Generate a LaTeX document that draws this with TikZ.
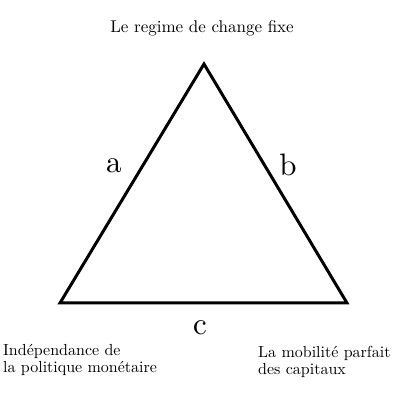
\documentclass[tikz,border=0pt]{standalone}
\usepackage{fontspec}
\setmainfont{lmroman10-regular}[Extension=.otf]
\tikzset{
  corner/.style={font=\fontsize{16}{17.5}\selectfont, inner sep=0pt, align=left},
  side/.style={font=\fontsize{31}{31}\selectfont, inner sep=0pt, anchor=base},
}
\begin{document}
\begin{tikzpicture}[x=1pt,y=1pt]
  \useasboundingbox (0,0) rectangle (400,400);
  \draw
    (204,336) coordinate (top)
    (60,97) coordinate (left)
    (347,97) coordinate (right);
  \draw[line width=3pt] (top) -- (left) -- (right) -- cycle;
  \node[corner, anchor=base, font=\fontsize{17}{17.5}\selectfont] (fixe) at (202,367) {Le regime de change fixe};
  \node[corner, anchor=north west] (indep) at (3,56) {Indépendance de\\la politique monétaire};
  \node[corner, anchor=north west] (mobil) at (258,54) {La mobilité parfait\\des capitaux};
  \node[side] (a) at (114,227) {a};
  \node[side] (b) at (288,224) {b};
  \node[side] (c) at (200,65) {c};
\end{tikzpicture}
\end{document}
